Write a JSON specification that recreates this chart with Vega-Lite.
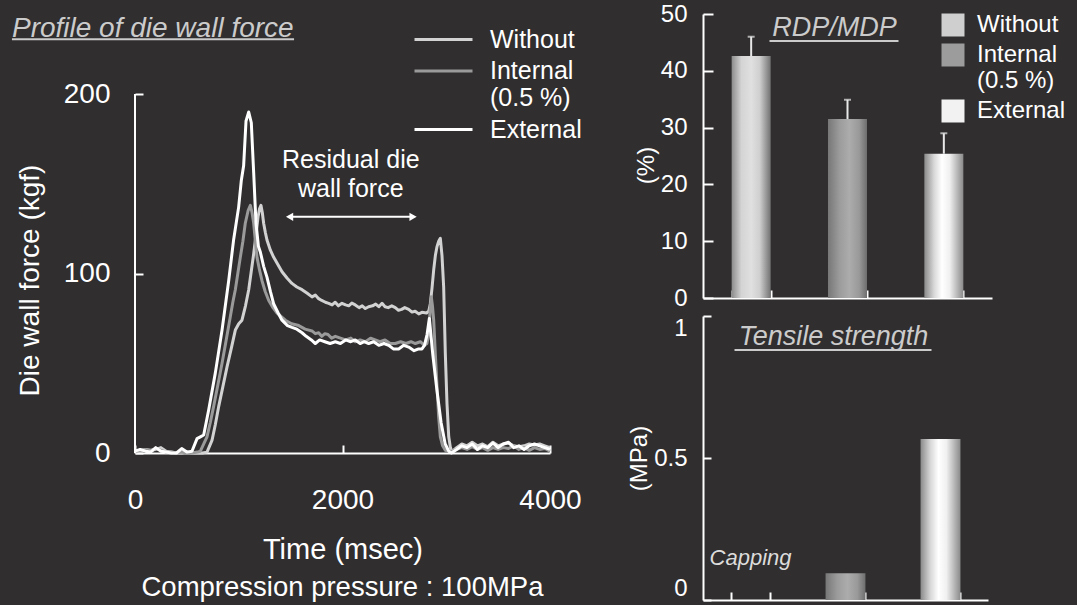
{
  "$schema": "https://vega.github.io/schema/vega-lite/v6.json",
  "background": "#302e2f",
  "padding": {"left": 10, "top": 2, "right": 30, "bottom": 30},
  "config": {
    "view": {"stroke": null},
    "font": "Liberation Sans",
    "axis": {
      "domainColor": "#ffffff", "domainWidth": 2,
      "tickColor": "#ffffff", "tickWidth": 2,
      "labelColor": "#ffffff", "titleColor": "#ffffff",
      "titleFontWeight": "normal", "grid": false,
      "labelFont": "Liberation Sans", "titleFont": "Liberation Sans"
    },
    "legend": {"labelColor": "#ffffff", "labelFont": "Liberation Sans", "padding": 0}
  },
  "datasets": {
    "force": [
      {"additive":"Without","time":0,"force":0.5},{"additive":"Without","time":50,"force":1},{"additive":"Without","time":100,"force":2},{"additive":"Without","time":150,"force":1.5},{"additive":"Without","time":200,"force":2},{"additive":"Without","time":250,"force":3},{"additive":"Without","time":300,"force":1},{"additive":"Without","time":350,"force":0.5},{"additive":"Without","time":400,"force":0},{"additive":"Without","time":450,"force":0},{"additive":"Without","time":500,"force":0.5},{"additive":"Without","time":550,"force":0},{"additive":"Without","time":600,"force":0},{"additive":"Without","time":650,"force":0},{"additive":"Without","time":694,"force":0.5},{"additive":"Without","time":742,"force":7},{"additive":"Without","time":775,"force":16},{"additive":"Without","time":807,"force":26},{"additive":"Without","time":847,"force":37},{"additive":"Without","time":887,"force":48},{"additive":"Without","time":927,"force":58},{"additive":"Without","time":967,"force":68.5},{"additive":"Without","time":1000,"force":72},{"additive":"Without","time":1031,"force":74},{"additive":"Without","time":1065,"force":82},{"additive":"Without","time":1096,"force":91},{"additive":"Without","time":1120,"force":101},{"additive":"Without","time":1144,"force":111},{"additive":"Without","time":1165,"force":121},{"additive":"Without","time":1186,"force":131.6},{"additive":"Without","time":1200,"force":136},{"additive":"Without","time":1214,"force":138},{"additive":"Without","time":1227,"force":134},{"additive":"Without","time":1240,"force":128},{"additive":"Without","time":1256,"force":123},{"additive":"Without","time":1272,"force":118.7},{"additive":"Without","time":1305,"force":113},{"additive":"Without","time":1337,"force":109},{"additive":"Without","time":1377,"force":105},{"additive":"Without","time":1417,"force":101},{"additive":"Without","time":1465,"force":97.5},{"additive":"Without","time":1513,"force":94.5},{"additive":"Without","time":1560,"force":92.5},{"additive":"Without","time":1610,"force":91},{"additive":"Without","time":1660,"force":89},{"additive":"Without","time":1706,"force":87},{"additive":"Without","time":1738,"force":88},{"additive":"Without","time":1770,"force":86},{"additive":"Without","time":1800,"force":85},{"additive":"Without","time":1835,"force":84},{"additive":"Without","time":1867,"force":83.4},{"additive":"Without","time":1900,"force":82.5},{"additive":"Without","time":1930,"force":84},{"additive":"Without","time":1960,"force":82},{"additive":"Without","time":1995,"force":83.4},{"additive":"Without","time":2030,"force":82.5},{"additive":"Without","time":2060,"force":82},{"additive":"Without","time":2090,"force":83.5},{"additive":"Without","time":2123,"force":82.5},{"additive":"Without","time":2160,"force":81},{"additive":"Without","time":2190,"force":82},{"additive":"Without","time":2220,"force":80.5},{"additive":"Without","time":2252,"force":81.5},{"additive":"Without","time":2290,"force":82},{"additive":"Without","time":2320,"force":83},{"additive":"Without","time":2350,"force":81.5},{"additive":"Without","time":2381,"force":83.4},{"additive":"Without","time":2410,"force":81.5},{"additive":"Without","time":2440,"force":81},{"additive":"Without","time":2475,"force":82},{"additive":"Without","time":2509,"force":81},{"additive":"Without","time":2540,"force":79.5},{"additive":"Without","time":2570,"force":80},{"additive":"Without","time":2600,"force":81},{"additive":"Without","time":2638,"force":80},{"additive":"Without","time":2670,"force":78.5},{"additive":"Without","time":2700,"force":79},{"additive":"Without","time":2735,"force":77.5},{"additive":"Without","time":2766,"force":78.4},{"additive":"Without","time":2810,"force":78},{"additive":"Without","time":2831,"force":79},{"additive":"Without","time":2846,"force":83},{"additive":"Without","time":2863,"force":92},{"additive":"Without","time":2879,"force":102},{"additive":"Without","time":2895,"force":110},{"additive":"Without","time":2911,"force":115},{"additive":"Without","time":2927,"force":118},{"additive":"Without","time":2943,"force":119.6},{"additive":"Without","time":2959,"force":110},{"additive":"Without","time":2975,"force":92.6},{"additive":"Without","time":2991,"force":55.5},{"additive":"Without","time":3007,"force":27.7},{"additive":"Without","time":3024,"force":9},{"additive":"Without","time":3040,"force":3},{"additive":"Without","time":3055,"force":0.7},{"additive":"Without","time":3100,"force":3},{"additive":"Without","time":3150,"force":5},{"additive":"Without","time":3200,"force":4},{"additive":"Without","time":3250,"force":6},{"additive":"Without","time":3300,"force":4},{"additive":"Without","time":3350,"force":5},{"additive":"Without","time":3400,"force":3.5},{"additive":"Without","time":3450,"force":6},{"additive":"Without","time":3500,"force":4},{"additive":"Without","time":3550,"force":5},{"additive":"Without","time":3600,"force":5.5},{"additive":"Without","time":3650,"force":4},{"additive":"Without","time":3700,"force":3.5},{"additive":"Without","time":3750,"force":4},{"additive":"Without","time":3800,"force":5},{"additive":"Without","time":3850,"force":4.5},{"additive":"Without","time":3900,"force":5},{"additive":"Without","time":3950,"force":4},{"additive":"Without","time":4000,"force":3},
      {"additive":"Internal","time":0,"force":1},{"additive":"Internal","time":50,"force":1.5},{"additive":"Internal","time":100,"force":2},{"additive":"Internal","time":150,"force":1},{"additive":"Internal","time":200,"force":2.5},{"additive":"Internal","time":250,"force":1.5},{"additive":"Internal","time":300,"force":0.5},{"additive":"Internal","time":350,"force":0.5},{"additive":"Internal","time":400,"force":0},{"additive":"Internal","time":450,"force":0.5},{"additive":"Internal","time":500,"force":0},{"additive":"Internal","time":550,"force":0},{"additive":"Internal","time":600,"force":0.5},{"additive":"Internal","time":630,"force":1},{"additive":"Internal","time":694,"force":9},{"additive":"Internal","time":726,"force":17},{"additive":"Internal","time":758,"force":26},{"additive":"Internal","time":799,"force":38},{"additive":"Internal","time":839,"force":50},{"additive":"Internal","time":879,"force":63},{"additive":"Internal","time":919,"force":76},{"additive":"Internal","time":943,"force":84},{"additive":"Internal","time":967,"force":91},{"additive":"Internal","time":991,"force":100},{"additive":"Internal","time":1015,"force":109},{"additive":"Internal","time":1040,"force":118},{"additive":"Internal","time":1063,"force":128},{"additive":"Internal","time":1090,"force":135},{"additive":"Internal","time":1112,"force":138},{"additive":"Internal","time":1128,"force":134},{"additive":"Internal","time":1144,"force":128},{"additive":"Internal","time":1160,"force":118},{"additive":"Internal","time":1176,"force":109},{"additive":"Internal","time":1200,"force":102},{"additive":"Internal","time":1224,"force":96},{"additive":"Internal","time":1255,"force":90},{"additive":"Internal","time":1289,"force":85},{"additive":"Internal","time":1330,"force":81},{"additive":"Internal","time":1369,"force":78},{"additive":"Internal","time":1410,"force":76},{"additive":"Internal","time":1449,"force":74},{"additive":"Internal","time":1510,"force":72},{"additive":"Internal","time":1578,"force":71},{"additive":"Internal","time":1640,"force":69},{"additive":"Internal","time":1706,"force":68},{"additive":"Internal","time":1738,"force":66.5},{"additive":"Internal","time":1770,"force":67},{"additive":"Internal","time":1800,"force":65},{"additive":"Internal","time":1830,"force":66.5},{"additive":"Internal","time":1860,"force":66},{"additive":"Internal","time":1895,"force":64},{"additive":"Internal","time":1931,"force":65},{"additive":"Internal","time":1980,"force":64},{"additive":"Internal","time":2030,"force":63},{"additive":"Internal","time":2080,"force":64},{"additive":"Internal","time":2123,"force":62},{"additive":"Internal","time":2170,"force":63},{"additive":"Internal","time":2220,"force":62},{"additive":"Internal","time":2270,"force":64},{"additive":"Internal","time":2316,"force":63},{"additive":"Internal","time":2360,"force":62},{"additive":"Internal","time":2410,"force":63},{"additive":"Internal","time":2460,"force":61},{"additive":"Internal","time":2509,"force":61},{"additive":"Internal","time":2560,"force":62},{"additive":"Internal","time":2610,"force":61},{"additive":"Internal","time":2660,"force":62},{"additive":"Internal","time":2702,"force":61},{"additive":"Internal","time":2750,"force":62},{"additive":"Internal","time":2790,"force":60},{"additive":"Internal","time":2814,"force":61},{"additive":"Internal","time":2830,"force":66},{"additive":"Internal","time":2845,"force":80},{"additive":"Internal","time":2856,"force":87},{"additive":"Internal","time":2867,"force":82},{"additive":"Internal","time":2879,"force":74},{"additive":"Internal","time":2895,"force":55},{"additive":"Internal","time":2911,"force":37},{"additive":"Internal","time":2927,"force":20},{"additive":"Internal","time":2943,"force":9},{"additive":"Internal","time":2965,"force":4},{"additive":"Internal","time":2991,"force":1.5},{"additive":"Internal","time":3020,"force":1},{"additive":"Internal","time":3060,"force":1},{"additive":"Internal","time":3100,"force":2},{"additive":"Internal","time":3150,"force":3},{"additive":"Internal","time":3200,"force":2},{"additive":"Internal","time":3250,"force":3.5},{"additive":"Internal","time":3300,"force":2},{"additive":"Internal","time":3350,"force":3},{"additive":"Internal","time":3400,"force":1.5},{"additive":"Internal","time":3450,"force":3},{"additive":"Internal","time":3500,"force":2},{"additive":"Internal","time":3550,"force":3},{"additive":"Internal","time":3600,"force":2.5},{"additive":"Internal","time":3650,"force":4},{"additive":"Internal","time":3700,"force":2},{"additive":"Internal","time":3750,"force":3},{"additive":"Internal","time":3800,"force":1.5},{"additive":"Internal","time":3850,"force":3},{"additive":"Internal","time":3900,"force":2},{"additive":"Internal","time":3950,"force":2.5},{"additive":"Internal","time":4000,"force":1},
      {"additive":"External","time":0,"force":1},{"additive":"External","time":50,"force":2},{"additive":"External","time":100,"force":1},{"additive":"External","time":150,"force":0.5},{"additive":"External","time":200,"force":3},{"additive":"External","time":250,"force":1},{"additive":"External","time":300,"force":0.5},{"additive":"External","time":350,"force":0},{"additive":"External","time":400,"force":0},{"additive":"External","time":450,"force":2.5},{"additive":"External","time":500,"force":0.5},{"additive":"External","time":549,"force":1},{"additive":"External","time":598,"force":8},{"additive":"External","time":630,"force":9},{"additive":"External","time":662,"force":10},{"additive":"External","time":710,"force":24},{"additive":"External","time":774,"force":44.5},{"additive":"External","time":839,"force":68.5},{"additive":"External","time":903,"force":96},{"additive":"External","time":951,"force":119},{"additive":"External","time":999,"force":137},{"additive":"External","time":1025,"force":152},{"additive":"External","time":1047,"force":160},{"additive":"External","time":1070,"force":185},{"additive":"External","time":1096,"force":190},{"additive":"External","time":1121,"force":184},{"additive":"External","time":1144,"force":156},{"additive":"External","time":1166,"force":128},{"additive":"External","time":1190,"force":115},{"additive":"External","time":1208,"force":112},{"additive":"External","time":1240,"force":104},{"additive":"External","time":1272,"force":98},{"additive":"External","time":1305,"force":90},{"additive":"External","time":1337,"force":83},{"additive":"External","time":1380,"force":78},{"additive":"External","time":1417,"force":74},{"additive":"External","time":1470,"force":71},{"additive":"External","time":1513,"force":70},{"additive":"External","time":1560,"force":69},{"additive":"External","time":1610,"force":67},{"additive":"External","time":1650,"force":65},{"additive":"External","time":1700,"force":63},{"additive":"External","time":1738,"force":61},{"additive":"External","time":1780,"force":63},{"additive":"External","time":1830,"force":62},{"additive":"External","time":1880,"force":61},{"additive":"External","time":1931,"force":62},{"additive":"External","time":1980,"force":61},{"additive":"External","time":2030,"force":63},{"additive":"External","time":2080,"force":62},{"additive":"External","time":2123,"force":63},{"additive":"External","time":2170,"force":61},{"additive":"External","time":2210,"force":62},{"additive":"External","time":2252,"force":61},{"additive":"External","time":2300,"force":62},{"additive":"External","time":2350,"force":60},{"additive":"External","time":2400,"force":61},{"additive":"External","time":2445,"force":60},{"additive":"External","time":2490,"force":58},{"additive":"External","time":2541,"force":58},{"additive":"External","time":2590,"force":60},{"additive":"External","time":2638,"force":59},{"additive":"External","time":2690,"force":57},{"additive":"External","time":2734,"force":58},{"additive":"External","time":2766,"force":58},{"additive":"External","time":2790,"force":60},{"additive":"External","time":2815,"force":66},{"additive":"External","time":2837,"force":75},{"additive":"External","time":2870,"force":55},{"additive":"External","time":2910,"force":35},{"additive":"External","time":2950,"force":17},{"additive":"External","time":2990,"force":5},{"additive":"External","time":3024,"force":1},{"additive":"External","time":3050,"force":0},{"additive":"External","time":3100,"force":2},{"additive":"External","time":3150,"force":4},{"additive":"External","time":3200,"force":3},{"additive":"External","time":3250,"force":5},{"additive":"External","time":3300,"force":2},{"additive":"External","time":3350,"force":4},{"additive":"External","time":3400,"force":3},{"additive":"External","time":3450,"force":5.5},{"additive":"External","time":3500,"force":3},{"additive":"External","time":3550,"force":5},{"additive":"External","time":3600,"force":6},{"additive":"External","time":3650,"force":3},{"additive":"External","time":3700,"force":4},{"additive":"External","time":3750,"force":2},{"additive":"External","time":3800,"force":4},{"additive":"External","time":3850,"force":5},{"additive":"External","time":3900,"force":4},{"additive":"External","time":3950,"force":3},{"additive":"External","time":4000,"force":2}
    ],
    "rdp": [
      {"additive": "Without", "rdp": 42.6, "upper": 46.0},
      {"additive": "Internal", "rdp": 31.5, "upper": 34.9},
      {"additive": "External", "rdp": 25.4, "upper": 29.0}
    ],
    "tensile": [
      {"additive": "Without", "strength": 0},
      {"additive": "Internal", "strength": 0.094},
      {"additive": "External", "strength": 0.567}
    ]
  },
  "resolve": {"scale": {"color": "independent"}, "legend": {"color": "independent"}},
  "spacing": 45,
  "hconcat": [
    {
      "width": 415,
      "height": 439,
      "title": {"text": "Compression pressure : 100MPa", "orient": "bottom", "fontSize": 27.5, "fontWeight": "normal", "color": "#ffffff", "offset": 10, "font": "Liberation Sans"},
      "layer": [
        {
          "data": {"name": "force"},
          "mark": {"type": "line", "strokeWidth": 3, "strokeJoin": "round"},
          "encoding": {
            "x": {"field": "time", "type": "quantitative",
                  "scale": {"domain": [0, 4000], "nice": false},
                  "axis": {"values": [0, 2000, 4000], "format": "d", "title": "Time (msec)", "labelFontSize": 28, "titleFontSize": 29,
                           "tickSize": -8, "labelPadding": 41, "titlePadding": 21, "labelFlush": false}},
            "y": {"field": "force", "type": "quantitative",
                  "scale": {"domain": [0, 244.6], "nice": false},
                  "axis": {"values": [0, 100, 200], "title": "Die wall force (kgf)", "labelFontSize": 28, "titleFontSize": 28,
                           "domain": false, "tickSize": -8, "labelPadding": 33, "titlePadding": 19, "titleY": 266}},
            "color": {"field": "additive", "type": "nominal",
                      "scale": {"domain": ["Without", "Internal", "External"], "range": ["#d2d2d2", "#9a9a9a", "#ffffff"]},
                      "legend": {"title": null, "orient": "none", "legendX": 278, "legendY": 13,
                                 "symbolType": "stroke", "symbolSize": 3364, "symbolStrokeWidth": 3, "clipHeight": 25,
                                 "labelFontSize": 25, "labelOffset": 16, "rowPadding": 5.5,
                                 "labelExpr": "datum.label == 'Internal' ? ['Internal', '(0.5 %)'] : datum.label"}}
          }
        },
        {
          "data": {"values": [{}]},
          "mark": {"type": "rule", "color": "#ffffff", "strokeWidth": 2},
          "encoding": {"x": {"datum": 0}, "y": {"datum": 0}, "y2": {"datum": 200}}
        },
        {
          "data": {"values": [{}]},
          "mark": {"type": "rule", "color": "#ffffff", "strokeWidth": 2},
          "encoding": {"x": {"datum": 1480}, "x2": {"datum": 2690}, "y": {"datum": 131.6}}
        },
        {
          "data": {"values": [{"end": 1490, "shape": "triangle-left"}, {"end": 2680, "shape": "triangle-right"}]},
          "mark": {"type": "point", "filled": true, "color": "#ffffff", "opacity": 1, "size": 70},
          "encoding": {"x": {"field": "end", "type": "quantitative"}, "y": {"datum": 131.6},
                       "shape": {"field": "shape", "type": "nominal", "scale": null}}
        },
        {
          "data": {"values": [{}]},
          "mark": {"type": "text", "text": ["Residual die", "wall force"], "fontSize": 25, "lineHeight": 29,
                   "color": "#ffffff", "align": "center", "baseline": "middle"},
          "encoding": {"x": {"datum": 2080}, "y": {"datum": 163.2}}
        },
        {
          "data": {"values": [{}]},
          "mark": {"type": "text", "text": "Profile of die wall force", "fontSize": 28, "fontStyle": "italic",
                   "color": "#cbcbcb", "align": "left", "baseline": "alphabetic"},
          "encoding": {"x": {"datum": -1186}, "y": {"datum": 232}}
        },
        {
          "data": {"values": [{}]},
          "mark": {"type": "rule", "color": "#cbcbcb", "strokeWidth": 2},
          "encoding": {"x": {"datum": -1186}, "x2": {"datum": 1533}, "y": {"datum": 230.6}}
        }
      ]
    },
    {
      "vconcat": [
        {
          "width": 289,
          "height": 284,
          "data": {"name": "rdp"},
          "layer": [
            {
              "transform": [{"filter": {"field": "additive", "equal": "Without"}}],
              "mark": {"type": "bar", "color": {"gradient": "linear", "x1": 0, "y1": 0, "x2": 1, "y2": 0, "stops": [{"offset": 0, "color": "#8c8c8c"}, {"offset": 0.25, "color": "#d4d4d4"}, {"offset": 0.5, "color": "#e0e0e0"}, {"offset": 0.72, "color": "#cfcfcf"}, {"offset": 1, "color": "#727272"}]}},
              "encoding": {
                "x": {"field": "additive", "type": "nominal",
                      "scale": {"domain": ["Without", "Internal", "External"], "paddingInner": 0.595, "paddingOuter": 0.2975},
                      "axis": {"labels": false, "title": null, "tickBand": "extent", "tickSize": -8}},
                "y": {"field": "rdp", "type": "quantitative",
                      "scale": {"domain": [0, 50], "nice": false},
                      "axis": {"values": [0, 10, 20, 30, 40, 50], "title": "(%)", "labelFontSize": 24, "titleFontSize": 24,
                               "tickSize": -10, "labelPadding": 26, "titlePadding": 2, "titleY": 151}}
              }
            },
            {
              "transform": [{"filter": {"field": "additive", "equal": "Internal"}}],
              "mark": {"type": "bar", "color": {"gradient": "linear", "x1": 0, "y1": 0, "x2": 1, "y2": 0, "stops": [{"offset": 0, "color": "#777777"}, {"offset": 0.3, "color": "#9c9c9c"}, {"offset": 0.55, "color": "#acacac"}, {"offset": 0.8, "color": "#999999"}, {"offset": 1, "color": "#6e6e6e"}]}},
              "encoding": {"x": {"field": "additive", "type": "nominal"}, "y": {"field": "rdp", "type": "quantitative"}}
            },
            {
              "transform": [{"filter": {"field": "additive", "equal": "External"}}],
              "mark": {"type": "bar", "color": {"gradient": "linear", "x1": 0, "y1": 0, "x2": 1, "y2": 0, "stops": [{"offset": 0, "color": "#8a8a8a"}, {"offset": 0.25, "color": "#d8d8d8"}, {"offset": 0.45, "color": "#ffffff"}, {"offset": 0.65, "color": "#f0f0f0"}, {"offset": 1, "color": "#8a8a8a"}]}},
              "encoding": {"x": {"field": "additive", "type": "nominal"}, "y": {"field": "rdp", "type": "quantitative"}}
            },
            {
              "mark": {"type": "rule", "color": "#e8e8e8", "strokeWidth": 2},
              "encoding": {"x": {"field": "additive", "type": "nominal"},
                           "y": {"field": "rdp", "type": "quantitative"}, "y2": {"field": "upper"}}
            },
            {
              "mark": {"type": "tick", "color": "#e8e8e8", "thickness": 2, "size": 7},
              "encoding": {"x": {"field": "additive", "type": "nominal"},
                           "y": {"field": "upper", "type": "quantitative"}}
            },
            {
              "mark": {"type": "point", "filled": true, "opacity": 0, "size": 0},
              "encoding": {
                "x": {"field": "additive", "type": "nominal"},
                "y": {"field": "rdp", "type": "quantitative"},
                "color": {"field": "additive", "type": "nominal",
                          "scale": {"domain": ["Without", "Internal", "External"], "range": ["#cfcfcf", "#9c9c9c", "#f2f2f2"]},
                          "legend": {"title": null, "orient": "none", "legendX": 238, "legendY": -1,
                                     "symbolType": "square", "symbolSize": 529, "symbolStrokeWidth": 0, "symbolOpacity": 1,
                                     "labelFontSize": 24, "labelOffset": 12, "rowPadding": 6,
                                     "labelExpr": "datum.label == 'Internal' ? ['Internal', '(0.5 %)'] : datum.label"}}
              }
            },
            {
              "data": {"values": [{}]},
              "mark": {"type": "text", "text": "RDP/MDP", "fontSize": 27, "fontStyle": "italic", "color": "#cbcbcb",
                       "align": "center", "baseline": "middle", "dx": -13},
              "encoding": {"x": {"datum": "Internal"}, "y": {"datum": 47.6}}
            },
            {
              "data": {"values": [{}]},
              "mark": {"type": "rule", "color": "#cbcbcb", "strokeWidth": 2, "xOffset": -78, "x2Offset": 51},
              "encoding": {"x": {"datum": "Internal"}, "x2": {"datum": "Internal"}, "y": {"datum": 45.25}}
            }
          ]
        },
        {
          "width": 285,
          "height": 284,
          "data": {"name": "tensile"},
          "layer": [
            {
              "transform": [{"filter": {"field": "additive", "equal": "Without"}}],
              "mark": {"type": "bar", "color": {"gradient": "linear", "x1": 0, "y1": 0, "x2": 1, "y2": 0, "stops": [{"offset": 0, "color": "#8c8c8c"}, {"offset": 0.25, "color": "#d4d4d4"}, {"offset": 0.5, "color": "#e0e0e0"}, {"offset": 0.72, "color": "#cfcfcf"}, {"offset": 1, "color": "#727272"}]}},
              "encoding": {
                "x": {"field": "additive", "type": "nominal",
                      "scale": {"domain": ["Without", "Internal", "External"], "paddingInner": 0.58, "paddingOuter": 0.29},
                      "axis": {"labels": false, "title": null, "tickBand": "extent", "tickSize": -8}},
                "y": {"field": "strength", "type": "quantitative",
                      "scale": {"domain": [0, 1], "nice": false},
                      "axis": {"values": [0, 0.5, 1], "format": "~g", "title": "(MPa)", "labelFontSize": 24, "titleFontSize": 24,
                               "tickSize": -8, "labelPadding": 24, "titlePadding": 2, "labelFlush": true}}
              }
            },
            {
              "transform": [{"filter": {"field": "additive", "equal": "Internal"}}],
              "mark": {"type": "bar", "color": {"gradient": "linear", "x1": 0, "y1": 0, "x2": 1, "y2": 0, "stops": [{"offset": 0, "color": "#777777"}, {"offset": 0.3, "color": "#9c9c9c"}, {"offset": 0.55, "color": "#acacac"}, {"offset": 0.8, "color": "#999999"}, {"offset": 1, "color": "#6e6e6e"}]}},
              "encoding": {"x": {"field": "additive", "type": "nominal"}, "y": {"field": "strength", "type": "quantitative"}}
            },
            {
              "transform": [{"filter": {"field": "additive", "equal": "External"}}],
              "mark": {"type": "bar", "color": {"gradient": "linear", "x1": 0, "y1": 0, "x2": 1, "y2": 0, "stops": [{"offset": 0, "color": "#8a8a8a"}, {"offset": 0.25, "color": "#d8d8d8"}, {"offset": 0.45, "color": "#ffffff"}, {"offset": 0.65, "color": "#f0f0f0"}, {"offset": 1, "color": "#8a8a8a"}]}},
              "encoding": {"x": {"field": "additive", "type": "nominal"}, "y": {"field": "strength", "type": "quantitative"}}
            },
            {
              "data": {"values": [{}]},
              "mark": {"type": "text", "text": "Capping", "fontSize": 22, "fontStyle": "italic", "color": "#dcdcdc",
                       "align": "center", "baseline": "middle"},
              "encoding": {"x": {"datum": "Without"}, "y": {"datum": 0.148}}
            },
            {
              "data": {"values": [{}]},
              "mark": {"type": "text", "text": "Tensile strength", "fontSize": 27, "fontStyle": "italic", "color": "#cbcbcb",
                       "align": "center", "baseline": "middle", "dx": -12},
              "encoding": {"x": {"datum": "Internal"}, "y": {"datum": 0.927}}
            },
            {
              "data": {"values": [{}]},
              "mark": {"type": "rule", "color": "#cbcbcb", "strokeWidth": 2, "xOffset": -111, "x2Offset": 86},
              "encoding": {"x": {"datum": "Internal"}, "x2": {"datum": "Internal"}, "y": {"datum": 0.88}}
            }
          ]
        }
      ],
      "spacing": 18,
      "bounds": "flush",
      "resolve": {"scale": {"color": "independent"}, "legend": {"color": "independent"}}
    }
  ]
}
